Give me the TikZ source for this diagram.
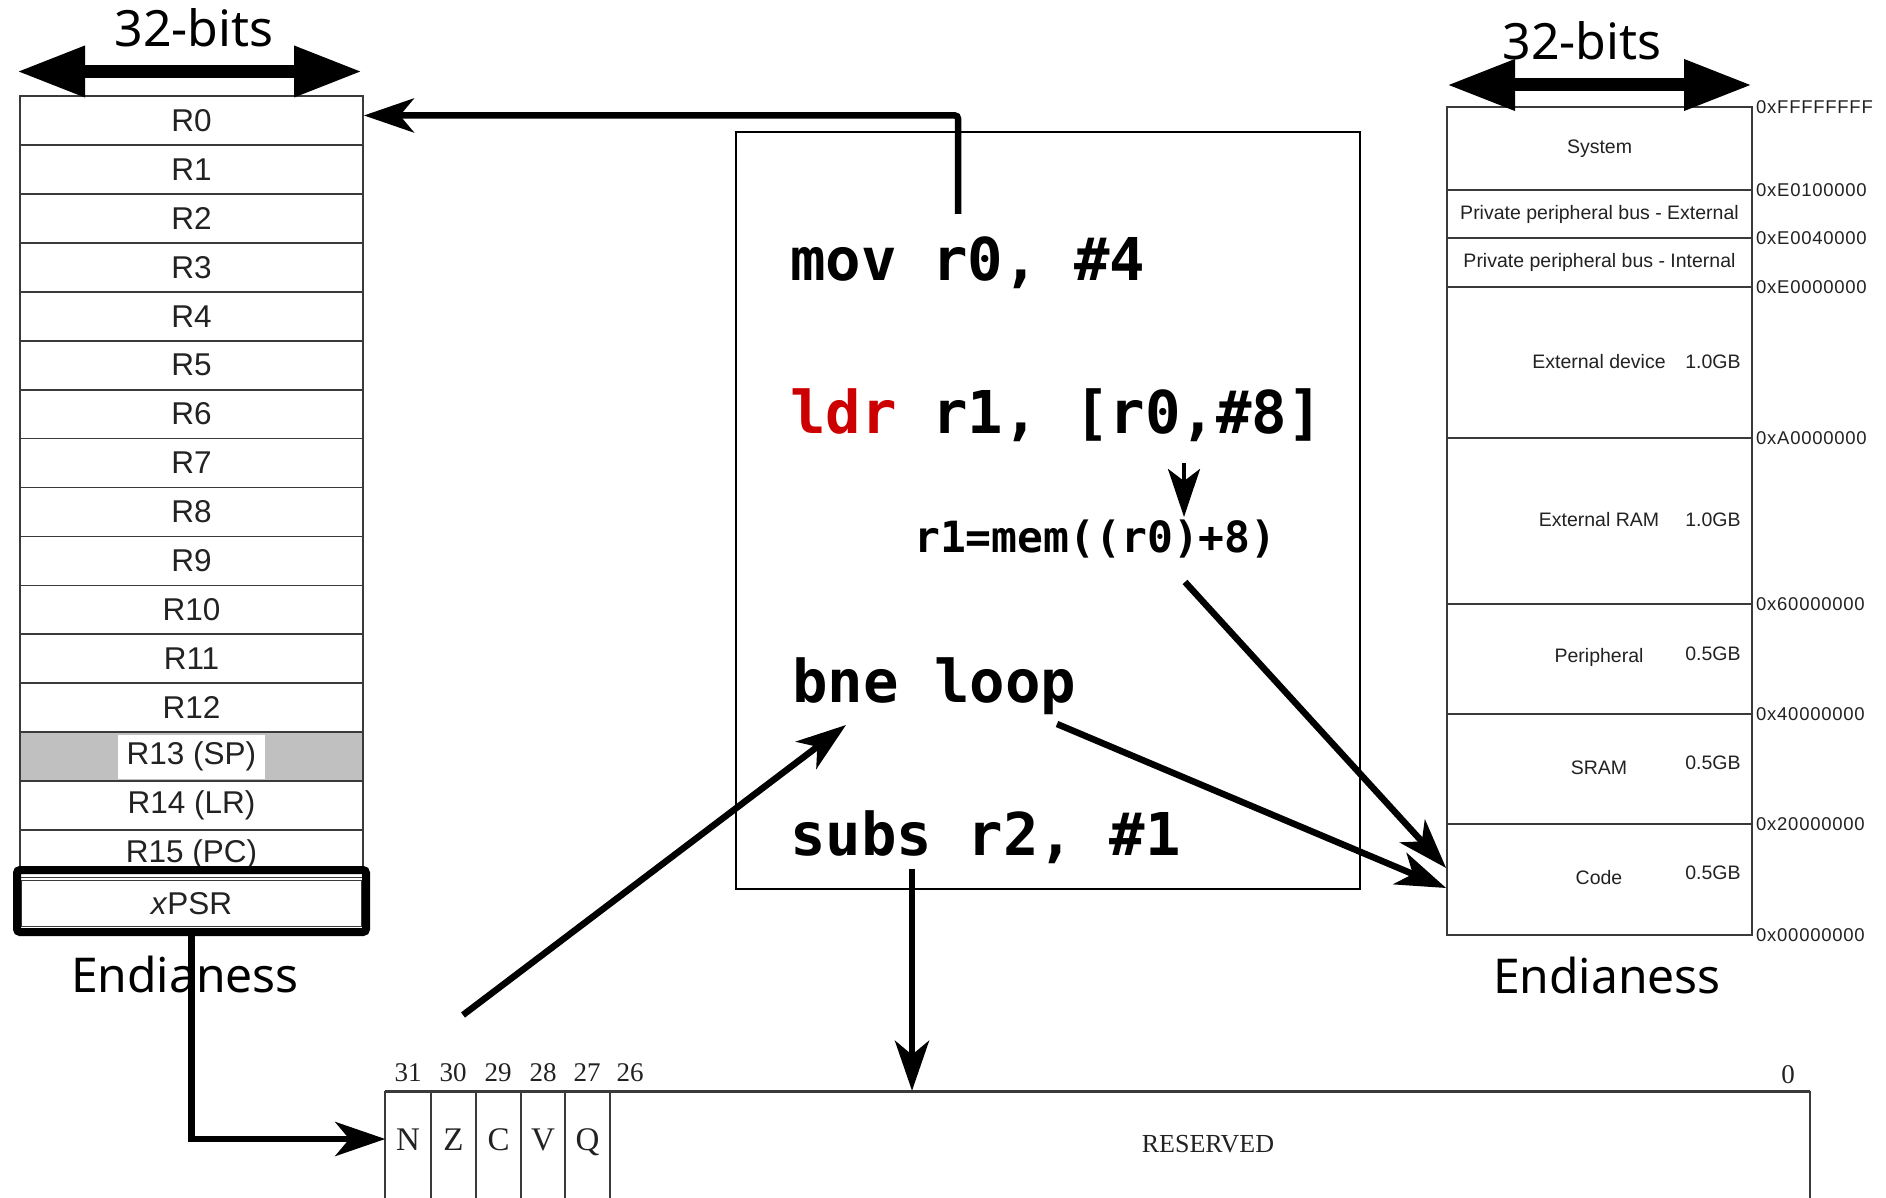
\documentclass[tikz,border=0pt]{standalone}
\usepackage{fontspec}
\setmainfont{Liberation Sans}
\newfontfamily\headfont{Noto Sans}
\newfontfamily\codefont{DejaVu Sans Mono}
\newfontfamily\flagfont{Liberation Serif}
\newfontfamily\addrfont[LetterSpace=4]{Liberation Sans}
\usetikzlibrary{arrows.meta}
\newcommand{\pxfont}[1]{\fontsize{#1pt}{#1pt}\selectfont}
\definecolor{ink}{HTML}{222222}
\definecolor{rule}{HTML}{3A3A3A}
\definecolor{spgray}{HTML}{C0C0C0}
\definecolor{ldrred}{HTML}{CC0000}

\begin{document}
\begin{tikzpicture}[x=1pt,y=-1pt,
  reg/.style={draw=rule, line width=1.8pt, minimum width=343pt, minimum height=48.94pt,
    inner sep=0pt, font=\pxfont{31.5}, text=ink},
  mem/.style={draw=rule, line width=1.8pt, minimum width=305pt, inner sep=0pt,
    font=\pxfont{19.5}, text=ink},
  mlab/.style={inner sep=0pt, font=\pxfont{19.5}, text=ink},
  addr/.style={anchor=west, inner sep=0pt, font=\addrfont\pxfont{18.5}, text=ink},
  head/.style={anchor=base, inner sep=0pt, font=\headfont\pxfont{50}},
  endian/.style={anchor=base, inner sep=0pt, font=\headfont\pxfont{48}},
  code/.style={anchor=base west, inner sep=0pt, font=\codefont\bfseries\pxfont{59}},
  cell/.style={minimum width=45pt, minimum height=96pt, inner sep=0pt,
    font=\flagfont\pxfont{33}, text=ink, text height=22pt, text depth=0pt},
  bitno/.style={inner sep=0pt, font=\flagfont\pxfont{27}, text=ink},
  flagline/.style={draw=rule, line width=2pt},
  conn/.style={line width=6.5pt, -{Stealth[length=50pt,width=34pt,inset=14pt]}},
  span/.style={line width=13pt,
    {Triangle[length=68pt,width=48pt]}-{Triangle[length=68pt,width=48pt]}}
]
\fill[white] (0,0) rectangle (1886,1198);
\useasboundingbox (0,0) rectangle (1886,1198);

% ---------------- register file ----------------
\foreach \i in {0,...,12}
  \node[reg] (reg\i) at (191.5,{96+48.94*\i+24.47}) {R\i};
\node[reg, fill=spgray] (reg13) at (191.5,{96+48.94*13+24.47}) {};
\node[fill=white, inner xsep=9pt, inner ysep=0pt, minimum height=44pt,
      font=\pxfont{31.5}, text=ink] (splabel) at (reg13) {R13 (SP)};
\node[reg] (reg14) at (191.5,{96+48.94*14+24.47}) {R14 (LR)};
\node[reg] (reg15) at (191.5,{96+48.94*15+24.47}) {R15 (PC)};
\node[reg, line width=1.2pt, double=white, double distance=1.4pt]
      (xpsr) at (191.5,{96+48.94*16+24.47}) {\textit{x}PSR};
\node[draw=black, line width=8pt, rounded corners=3pt, minimum width=349pt,
      minimum height=62pt, inner sep=0pt] (xframe) at (191.5,901) {};

% width markers
\coordinate (spanLa) at (17,71.5);
\coordinate (spanLb) at (362,71.5);
\draw[span] (spanLa) -- (spanLb);
\node[head] (bitsL) at (194,47) {32-bits};
\node[endian] (endL) at (185,992) {Endianess};

% ---------------- memory map ----------------
\node[mem, minimum height=83pt]  (msys)   at (1599.5,148.5) {System};
\node[mem, minimum height=48pt]  (mppbe)  at (1599.5,214)   {Private peripheral bus - External};
\node[mem, minimum height=49pt]  (mppbi)  at (1599.5,262.5) {Private peripheral bus - Internal};
\node[mem, minimum height=151pt] (mextd)  at (1599.5,362.5) {};
\node[mem, minimum height=166pt] (mextr)  at (1599.5,521)   {};
\node[mem, minimum height=110pt] (mper)   at (1599.5,659)   {};
\node[mem, minimum height=110pt] (msram)  at (1599.5,769)   {};
\node[mem, minimum height=111pt] (mcode)  at (1599.5,879.5) {};

\node[mlab] (lextd)  at (1599,362) {External device};
\node[mlab] (sextd)  at (1713,362) {1.0GB};
\node[mlab] (lextr)  at (1599,520) {External RAM};
\node[mlab] (sextr)  at (1713,520) {1.0GB};
\node[mlab] (lper)   at (1599,657) {Peripheral};
\node[mlab] (sper)   at (1713,654) {0.5GB};
\node[mlab] (lsram)  at (1599,768) {SRAM};
\node[mlab] (ssram)  at (1713,763) {0.5GB};
\node[mlab] (lcode)  at (1599,878) {Code};
\node[mlab] (scode)  at (1713,873) {0.5GB};

\node[addr] (a0) at (1756,107) {0xFFFFFFFF};
\node[addr] (a1) at (1756,190) {0xE0100000};
\node[addr] (a2) at (1756,238) {0xE0040000};
\node[addr] (a3) at (1756,287) {0xE0000000};
\node[addr] (a4) at (1756,438) {0xA0000000};
\node[addr] (a5) at (1756,604) {0x60000000};
\node[addr] (a6) at (1756,714) {0x40000000};
\node[addr] (a7) at (1756,824) {0x20000000};
\node[addr] (a8) at (1756,935) {0x00000000};

\coordinate (spanRa) at (1447,85);
\coordinate (spanRb) at (1752,85);
\draw[span] (spanRa) -- (spanRb);
\node[head] (bitsR) at (1582,60) {32-bits};
\node[endian] (endR) at (1607,993) {Endianess};

% ---------------- program listing ----------------
\node[draw=black, line width=2.2pt, minimum width=624pt, minimum height=757pt,
      inner sep=0pt] (codebox) at (1048,510.5) {};
\node[code] (lmov)  at (790,280) {mov r0, \#4};
\node[code] (lldr)  at (790,433) {\textcolor{ldrred}{ldr} r1, [r0,\#8]};
\node[code, font=\codefont\bfseries\pxfont{43}] (lmem) at (914,552) {r1=mem((r0)+8)};
\node[code] (lbne)  at (792,702) {bne loop};
\node[code] (lsubs) at (790,855) {subs r2, \#1};

% ---------------- flag register ----------------
\draw[flagline, line width=3pt] (385,1091) -- (1810,1091);
\foreach \xx in {385,431,476,521,565,610,1810}
  \draw[flagline] (\xx,1091) -- (\xx,1215);
\node[cell] (fN) at (408,1139)   {N};
\node[cell] (fZ) at (453.5,1139) {Z};
\node[cell] (fC) at (498.5,1139) {C};
\node[cell] (fV) at (543,1139)   {V};
\node[cell] (fQ) at (587.5,1139) {Q};
\node[minimum width=1200pt, minimum height=96pt, inner sep=0pt] (resv) at (1210,1139) {};
\node[anchor=base, inner sep=0pt, font=\flagfont\pxfont{26}, text=ink] (resvlabel) at (1208,1152) {RESERVED};

\node[bitno] (b31) at (408,1073) {31};
\node[bitno] (b30) at (453,1073) {30};
\node[bitno] (b29) at (498,1073) {29};
\node[bitno] (b28) at (543,1073) {28};
\node[bitno] (b27) at (587,1073) {27};
\node[bitno] (b26) at (630,1073) {26};
\node[bitno] (b0)  at (1788,1075) {0};

% ---------------- connectors ----------------
\coordinate (movtop)  at (958,214);
\coordinate (memtop)  at (1184,463);
\coordinate (memtip)  at (1184,517);
\coordinate (memout)  at (1185,582);
\coordinate (loopout) at (1057,724);
\coordinate (flagsup) at (463,1015);
\coordinate (bnein)   at (846,725);
\coordinate (subsout) at (912,869);

\draw[conn, rounded corners=3pt] (movtop) |- ([yshift=5pt]reg0.east);
\draw[line width=4pt, -{Stealth[length=48pt,width=32pt,inset=12pt]}] (memtop) -- (memtip);
\draw[conn] (memout) -- ([yshift=11.5pt]mcode.west);
\draw[conn] (loopout) -- ([yshift=-8.5pt]mcode.west);
\draw[conn] (flagsup) -- (bnein);
\draw[conn] (subsout) -- (subsout |- resv.north);
\draw[conn] (xframe.south) |- (fN.west);
\end{tikzpicture}
\end{document}
